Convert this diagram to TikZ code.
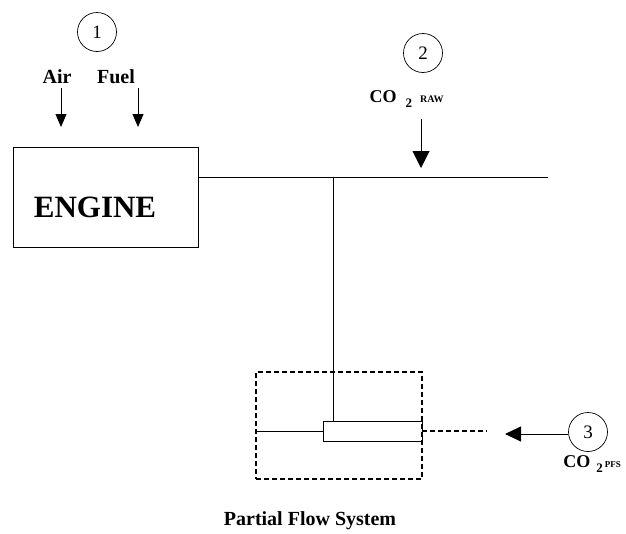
\documentclass[tikz,border=0pt]{standalone}
\usepackage{fontspec}
\setmainfont{Liberation Serif}
\usetikzlibrary{arrows.meta}

\begin{document}
\begin{tikzpicture}[x=1pt,y=-1pt,line width=0.8pt,
  num/.style={draw,circle,minimum size=39pt,inner sep=0pt,line width=0.7pt,font=\fontsize{19}{19}\selectfont},
  lbl/.style={font=\bfseries\fontsize{20}{20}\selectfont},
  arr/.style={-{Triangle[length=13pt,width=11pt]}},
  bigarr/.style={line width=1pt,-{Triangle[length=17pt,width=17pt]}}]
\useasboundingbox (0,0) rectangle (626,533);

% inputs of the engine
\node[num] (n1) at (97,32) {1};
\node[lbl] (air) at (57,77) {Air};
\node[lbl] (fuel) at (116,77) {Fuel};
\coordinate (airtop) at (61,88);
\coordinate (airbot) at (61,127);
\coordinate (fueltop) at (138,88);
\coordinate (fuelbot) at (138,127);
\draw[arr] (airtop) -- (airbot);
\draw[arr] (fueltop) -- (fuelbot);

% engine
\node[draw,minimum width=185pt,minimum height=100pt,inner sep=0pt] (engine) at (105.5,197) {};
\node[font=\bfseries\fontsize{31}{31}\selectfont] (engtxt) at (95,207) {ENGINE};

% exhaust pipe
\coordinate (tee) at (333,177);
\coordinate (pipeend) at (548,177);
\draw ([yshift=20pt]engine.east) -- (pipeend);

% raw sample
\node[num] (n2) at (423,53) {2};
\node[anchor=base west,font=\bfseries\fontsize{18}{18}\selectfont] (raw) at (366,102)
  {CO\hspace{9pt}\raisebox{-5pt}{\fontsize{13}{13}\selectfont 2}\hspace{8pt}{\fontsize{10}{10}\selectfont RAW}};
\coordinate (rawtop) at (421,119);
\coordinate (rawbot) at (421,168);
\draw[bigarr] (rawtop) -- (rawbot);

% partial flow system
\node[draw,dashed,dash pattern=on 5pt off 3pt,line width=1.3pt,minimum width=166pt,minimum height=107pt,inner sep=0pt] (pfs) at (339,425.5) {};
\node[draw,minimum width=99pt,minimum height=20pt,inner sep=0pt] (probe) at (372.5,431) {};
\draw (tee) -- (tee |- probe.north);
\draw (pfs.west |- probe.west) -- (probe.west);
\coordinate (dashend) at (487,431);
\draw[dash pattern=on 5pt off 3pt,line width=2pt] (probe.east) -- (dashend);

% pfs sample
\node[num] (n3) at (588,432) {3};
\coordinate (pfstip) at (505,434);
\draw[line width=1pt,-{Triangle[length=16pt,width=15pt]}] (n3.west |- pfstip) -- (pfstip);
\node[anchor=base west,font=\bfseries\fontsize{18}{18}\selectfont,inner sep=0pt] (pfsco) at (563,467)
  {CO\hspace{6pt}\raisebox{-5pt}{\fontsize{13}{13}\selectfont 2}\hspace{2pt}{\fontsize{9}{9}\selectfont PFS}};

\node[font=\bfseries\fontsize{20}{20}\selectfont] (pfslbl) at (310,521) {Partial Flow System};
\end{tikzpicture}
\end{document}
